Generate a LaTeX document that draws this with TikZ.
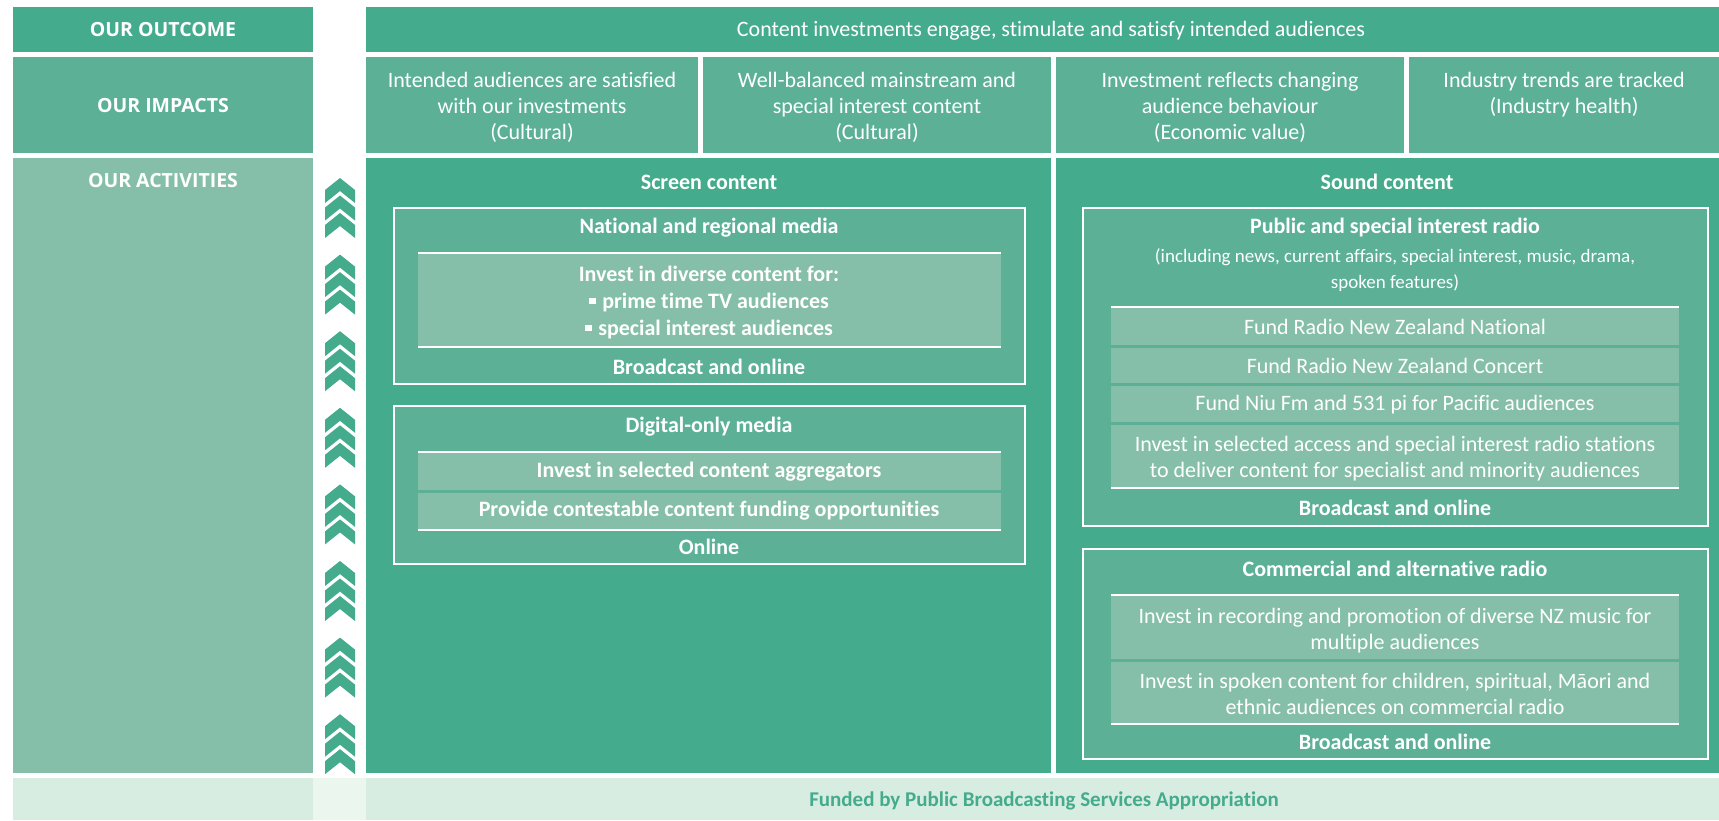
\documentclass[tikz,border=0pt]{standalone}
\usepackage{fontspec}
\setmainfont{Carlito}[Ligatures=NoCommon]
\newfontfamily\opensans{Open Sans}

\definecolor{dkgreen}{HTML}{45AB8D}
\definecolor{mdgreen}{HTML}{5CB096}
\definecolor{ltgreen}{HTML}{85BFA9}
\definecolor{pale}{HTML}{D7EDE1}
\definecolor{paler}{HTML}{EBF6EF}

\def \chevx {340}
\def \chevtop {178}
\def \chevgap {76.6}
\def \sq {\rule[0.22em]{0.3em}{0.3em}\hspace{0.3em}}

\tikzset{
  hd/.style={text=white, font=\opensans\bfseries\fontsize{19.5}{22}\selectfont},
  txt/.style={text=white, align=center, inner sep=0pt, font=\fontsize{22}{26}\selectfont},
  bld/.style={txt, font=\fontsize{22}{27}\selectfont\bfseries},
  small/.style={txt, font=\fontsize{19}{26}\selectfont},
  frame/.style={fill=mdgreen, draw=white, line width=2pt},
  rule/.style={white, line width=2.5pt}
}

\begin{document}
\begin{tikzpicture}[x=1pt, y=-1pt]
\useasboundingbox[fill=white] (0,0) rectangle (1719,820);

% left column
\fill[dkgreen] (13,7) rectangle (313,52);
\fill[mdgreen] (13,57) rectangle (313,153);
\fill[ltgreen] (13,158) rectangle (313,773);
\node[hd] (outcome) at (163,30) {OUR OUTCOME};
\node[hd] (impacts) at (163,106) {OUR IMPACTS};
\node[hd] (activities) at (163,181) {OUR ACTIVITIES};

% outcome and impacts
\fill[dkgreen] (366,7) rectangle (1719,52);
\node[txt] (outtext) at (1051,31) {Content investments engage, stimulate and satisfy intended audiences};
\fill[mdgreen] (366,57) rectangle (698,153);
\fill[mdgreen] (703,57) rectangle (1051,153);
\fill[mdgreen] (1056,57) rectangle (1404,153);
\fill[mdgreen] (1409,57) rectangle (1719,153);
\node[txt] (imp1) at (532,107) {Intended audiences are satisfied\\with our investments\\(Cultural)};
\node[txt] (imp2) at (877,107) {Well-balanced mainstream and\\special interest content\\(Cultural)};
\node[txt] (imp3) at (1230,107) {Investment reflects changing\\audience behaviour\\(Economic value)};
\node[txt] (imp4) at (1564,95) {Industry trends are tracked\\(Industry health)};

% chevrons
\foreach \k in {0,...,7}{
  \foreach \j in {0,1,2}{
    \fill[dkgreen, shift={(\chevx,\chevtop+\chevgap*\k+17.5*\j)}]
      (0,0) -- (15,12) -- (15,25) -- (0,13) -- (-15,25) -- (-15,12) -- cycle;
  }
}

% screen content
\fill[dkgreen] (366,158) rectangle (1051,773);
\node[bld] (screen) at (709,182) {Screen content};

\draw[frame] (394,208) rectangle (1025,384);
\node[bld] (national) at (709,228) {National and regional media};
\fill[ltgreen] (418,253) rectangle (1001,347);
\draw[rule] (418,253) -- (1001,253);
\draw[rule] (418,347) -- (1001,347);
\node[bld] (diverse) at (709,303) {Invest in diverse content for:\\\sq prime time TV audiences\\\sq special interest audiences};
\node[bld] (natout) at (709,367) {Broadcast and online};

\draw[frame] (394,406) rectangle (1025,564);
\node[bld] (digital) at (709,427) {Digital-only media};
\fill[ltgreen] (418,452) rectangle (1001,490);
\fill[ltgreen] (418,493) rectangle (1001,530);
\draw[rule] (418,452) -- (1001,452);
\draw[rule] (418,530) -- (1001,530);
\node[bld] (aggreg) at (709,472) {Invest in selected content aggregators};
\node[bld] (contest) at (709,511) {Provide contestable content funding opportunities};
\node[bld] (digout) at (709,547) {Online};

% sound content
\fill[dkgreen] (1056,158) rectangle (1719,773);
\node[bld] (sound) at (1387,182) {Sound content};

\draw[frame] (1083,208) rectangle (1708,526);
\node[bld] (public) at (1395,228) {Public and special interest radio};
\node[small] (pubnote) at (1395,270) {(including news, current affairs, special interest, music, drama,\\spoken features)};
\fill[ltgreen] (1111,308) rectangle (1679,345);
\fill[ltgreen] (1111,348) rectangle (1679,383);
\fill[ltgreen] (1111,386) rectangle (1679,422);
\fill[ltgreen] (1111,425) rectangle (1679,488);
\draw[rule] (1111,307) -- (1679,307);
\draw[rule] (1111,488) -- (1679,488);
\node[txt] (rnzn) at (1395,327) {Fund Radio New Zealand National};
\node[txt] (rnzc) at (1395,366) {Fund Radio New Zealand Concert};
\node[txt] (niufm) at (1395,405) {Fund Niu Fm and 531 pi for Pacific audiences};
\node[txt] (access) at (1395,459) {Invest in selected access and special interest radio stations\\to deliver content for specialist and minority audiences};
\node[bld] (pubout) at (1395,508) {Broadcast and online};

\draw[frame] (1083,549) rectangle (1708,759);
\node[bld] (commercial) at (1395,569) {Commercial and alternative radio};
\fill[ltgreen] (1111,595) rectangle (1679,659);
\fill[ltgreen] (1111,662) rectangle (1679,724);
\draw[rule] (1111,595) -- (1679,595);
\draw[rule] (1111,724) -- (1679,724);
\node[txt] (music) at (1395,631) {Invest in recording and promotion of diverse NZ music for\\multiple audiences};
\node[txt] (spoken) at (1395,694) {Invest in spoken content for children, spiritual, Māori and\\ethnic audiences on commercial radio};
\node[bld] (comout) at (1395,742) {Broadcast and online};

% funding row
\fill[pale] (13,778) rectangle (313,820);
\fill[paler] (313,778) rectangle (366,820);
\fill[pale] (366,778) rectangle (1719,820);
\node[bld, font=\fontsize{21}{25}\selectfont\bfseries, text=dkgreen] (funded) at (1044,801) {Funded by Public Broadcasting Services Appropriation};
\end{tikzpicture}
\end{document}
